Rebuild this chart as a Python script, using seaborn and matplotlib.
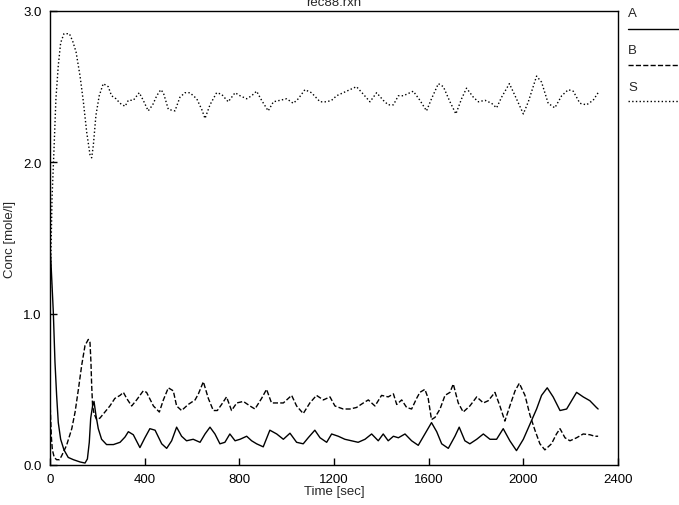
import matplotlib
matplotlib.use("Agg")
import matplotlib.pyplot as plt
from matplotlib.lines import Line2D
import seaborn as sns
import pandas as pd

# series (time in sec, concentration in mole/l)
t_a = [0, 4, 14, 21, 28, 35, 45, 59, 77, 99, 127, 148, 158, 166, 172, 180, 186, 194, 204, 218,
       239, 268, 296, 317, 331, 352, 380, 401, 422, 444, 472, 493, 514, 535, 556, 577, 605, 634,
       655, 676, 697, 718, 739, 760, 782, 803, 831, 852, 873, 901, 929, 958, 986, 1014, 1042,
       1070, 1091, 1119, 1141, 1169, 1190, 1218, 1246, 1274, 1302, 1331, 1359, 1387, 1408, 1429,
       1451, 1472, 1500, 1528, 1556, 1584, 1612, 1634, 1655, 1683, 1711, 1729, 1753, 1774, 1803,
       1831, 1859, 1887, 1915, 1943, 1971, 2000, 2028, 2056, 2077, 2101, 2126, 2155, 2183, 2204,
       2225, 2253, 2281, 2309, 2316]
a_vals = [1.45, 1.34, 1.01, 0.68, 0.46, 0.28, 0.17, 0.10, 0.05, 0.035, 0.02, 0.013, 0.04, 0.15,
          0.31, 0.39, 0.42, 0.33, 0.24, 0.17, 0.135, 0.135, 0.15, 0.185, 0.22, 0.20, 0.115, 0.18,
          0.24, 0.23, 0.14, 0.11, 0.16, 0.25, 0.19, 0.16, 0.17, 0.15, 0.205, 0.25, 0.205, 0.14,
          0.15, 0.205, 0.16, 0.17, 0.19, 0.16, 0.14, 0.12, 0.23, 0.205, 0.17, 0.21, 0.15, 0.14,
          0.18, 0.23, 0.18, 0.15, 0.205, 0.19, 0.17, 0.16, 0.15, 0.17, 0.205, 0.16, 0.205, 0.16,
          0.19, 0.18, 0.205, 0.16, 0.13, 0.205, 0.28, 0.22, 0.14, 0.11, 0.19, 0.25, 0.16, 0.14,
          0.17, 0.205, 0.17, 0.17, 0.24, 0.16, 0.095, 0.17, 0.27, 0.37, 0.46, 0.51, 0.45, 0.36,
          0.37, 0.425, 0.48, 0.45, 0.425, 0.38, 0.37]

t_b = [0, 3, 6, 10, 18, 28, 40, 49, 70, 92, 106, 120, 134, 148, 162, 169, 173, 176, 180, 186,
       197, 211, 232, 253, 274, 296, 310, 324, 345, 366, 394, 408, 437, 462, 479, 500, 521, 535,
       556, 584, 613, 627, 648, 669, 690, 707, 725, 746, 767, 789, 817, 845, 866, 894, 915, 936,
       965, 986, 1021, 1042, 1070, 1098, 1126, 1155, 1183, 1204, 1239, 1267, 1295, 1324, 1345,
       1373, 1401, 1429, 1451, 1465, 1486, 1507, 1528, 1549, 1563, 1584, 1598, 1612, 1627, 1648,
       1669, 1690, 1704, 1725, 1746, 1774, 1803, 1831, 1852, 1880, 1901, 1922, 1943, 1965, 1983,
       2007, 2028, 2049, 2070, 2091, 2119, 2140, 2155, 2176, 2197, 2225, 2253, 2281, 2302, 2316]
b_vals = [0.43, 0.30, 0.18, 0.10, 0.05, 0.035, 0.035, 0.06, 0.13, 0.24, 0.35, 0.50, 0.66, 0.79,
          0.83, 0.81, 0.68, 0.53, 0.39, 0.34, 0.30, 0.31, 0.35, 0.39, 0.44, 0.46, 0.48, 0.44,
          0.39, 0.43, 0.49, 0.48, 0.39, 0.35, 0.43, 0.51, 0.49, 0.39, 0.36, 0.40, 0.43, 0.47,
          0.55, 0.44, 0.36, 0.36, 0.40, 0.45, 0.36, 0.41, 0.42, 0.39, 0.37, 0.44, 0.50, 0.41,
          0.41, 0.41, 0.46, 0.39, 0.34, 0.41, 0.46, 0.43, 0.45, 0.39, 0.37, 0.37, 0.38, 0.41,
          0.43, 0.39, 0.46, 0.45, 0.47, 0.40, 0.43, 0.38, 0.37, 0.44, 0.48, 0.50, 0.44, 0.30,
          0.315, 0.37, 0.46, 0.48, 0.535, 0.41, 0.35, 0.39, 0.45, 0.41, 0.425, 0.48, 0.39, 0.29,
          0.39, 0.49, 0.54, 0.46, 0.33, 0.23, 0.14, 0.10, 0.14, 0.205, 0.24, 0.18, 0.16, 0.18,
          0.205, 0.20, 0.19, 0.19]

t_s = [0, 4, 8.5, 17, 25, 35, 45, 59, 82, 96, 110, 127, 141, 155, 169, 176, 183, 194, 208, 225,
       246, 260, 279, 296, 317, 331, 352, 377, 394, 415, 434, 451, 468, 479, 500, 528, 549, 570,
       591, 620, 641, 655, 676, 704, 725, 753, 782, 803, 831, 852, 873, 894, 922, 944, 972, 1000,
       1028, 1049, 1077, 1105, 1141, 1169, 1190, 1211, 1239, 1267, 1295, 1324, 1352, 1380, 1408,
       1429, 1451, 1472, 1493, 1535, 1563, 1591, 1612, 1641, 1662, 1690, 1715, 1739, 1760, 1789,
       1810, 1838, 1866, 1887, 1908, 1941, 1965, 2000, 2021, 2056, 2077, 2105, 2133, 2162, 2190,
       2211, 2239, 2267, 2295, 2316]
s_vals = [1.00, 1.40, 1.76, 2.09, 2.42, 2.64, 2.79, 2.85, 2.85, 2.80, 2.73, 2.57, 2.40, 2.20,
          2.05, 2.03, 2.11, 2.31, 2.44, 2.52, 2.50, 2.44, 2.42, 2.39, 2.37, 2.41, 2.41, 2.46,
          2.41, 2.34, 2.38, 2.44, 2.48, 2.46, 2.35, 2.34, 2.43, 2.46, 2.46, 2.42, 2.35, 2.29,
          2.38, 2.46, 2.45, 2.40, 2.46, 2.44, 2.42, 2.44, 2.47, 2.41, 2.34, 2.40, 2.41, 2.42,
          2.39, 2.42, 2.48, 2.46, 2.40, 2.40, 2.41, 2.44, 2.46, 2.48, 2.50, 2.45, 2.40, 2.46,
          2.41, 2.38, 2.38, 2.44, 2.44, 2.47, 2.41, 2.34, 2.42, 2.52, 2.50, 2.40, 2.32, 2.42,
          2.49, 2.43, 2.40, 2.41, 2.39, 2.36, 2.43, 2.52, 2.44, 2.32, 2.40, 2.57, 2.53, 2.39,
          2.36, 2.44, 2.48, 2.47, 2.39, 2.38, 2.41, 2.46]

x_ticks = [0, 400, 800, 1200, 1600, 2000, 2400]
y_ticks = [0.0, 1.0, 2.0, 3.0]

sns.set_style("white")
plt.rcParams['font.family'] = ['Liberation Sans', 'DejaVu Sans']

fig = plt.figure(figsize=(6.79, 5.06), dpi=100)
ax = fig.add_axes([50 / 679, 1 - 466 / 506, 568 / 679, 454 / 506])

series = [("A", t_a, a_vals, "-"), ("B", t_b, b_vals, "--"), ("S", t_s, s_vals, ":")]
for name, t, v, ls in series:
    df = pd.DataFrame({"t": t, "c": v})
    sns.lineplot(data=df, x="t", y="c", color="black", lw=1.0, linestyle=ls,
                 estimator=None, sort=False, ax=ax)

ax.set_xlim(0, 2400)
ax.set_ylim(0, 3.0)
ax.set_xticks(x_ticks)
ax.set_xticklabels([str(v) for v in x_ticks])
ax.set_yticks(y_ticks)
ax.set_yticklabels([f"{v:.1f}" for v in y_ticks])
ax.tick_params(direction="in", length=5, width=1, pad=6, labelsize=9.5, colors="black",
               bottom=True, left=True, top=False, right=False)
for sp in ax.spines.values():
    sp.set_color("black")
    sp.set_linewidth(1)

ax.set_xlabel("Time [sec]", fontsize=9.5)
ax.set_ylabel("Conc [mole/l]", fontsize=9.5)
ax.xaxis.set_label_coords(0.5, -26 / 454)
ax.xaxis.label.set_va("center")
ax.yaxis.set_label_coords(-40 / 568, 0.5)
ax.yaxis.label.set_va("center")

fig.text(334 / 679, 1 - 5.5 / 506, "rec88.rxn", ha="center", va="baseline", fontsize=9.5)

# legend drawn to the right of the frame, label above its line sample
for i, (name, _, _, ls) in enumerate(series):
    y_txt = 1 - (14 + 37 * i) / 506
    y_ln = 1 - (30 + 36 * i) / 506
    fig.text(628 / 679, y_txt, name, ha="left", va="center", fontsize=9.5)
    fig.add_artist(Line2D([628 / 679, 1.0], [y_ln, y_ln], color="black", lw=1.0,
                          linestyle=ls, transform=fig.transFigure))

fig.savefig("out.png", dpi=100)
